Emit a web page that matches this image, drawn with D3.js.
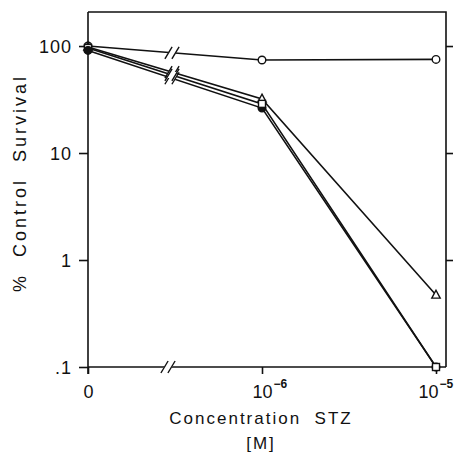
<!DOCTYPE html>
<html>
<head>
<meta charset="utf-8">
<script src="https://cdn.jsdelivr.net/npm/d3@7"></script>
<style>
  html, body { margin: 0; padding: 0; background: #fff; }
  svg { display: block; }
  text { font-family: "Liberation Sans", Arial, Helvetica, sans-serif; fill: #111; }
</style>
</head>
<body>
<svg id="chart" width="457" height="454"></svg>
<script>
// ---- data ----
const concentrations = [0, 1e-6, 1e-5];
const xTickLabels = [{base: "0", exp: ""}, {base: "10", exp: "−6"}, {base: "10", exp: "−5"}];
const yTickValues = [0.1, 1, 10, 100];
const yTickLabels = [".1", "1", "10", "100"];
const seriesOpenCircle = [100, 74, 75];
const seriesTriangle = [98, 32, 0.47];
const seriesOpenSquare = [96, 28.8, 0.1];
const seriesFilledCircle = [91, 26.3, 0.1];

const series = [
  {name: "open circle", values: seriesOpenCircle, marker: "circle", fill: "#fff"},
  {name: "triangle", values: seriesTriangle, marker: "triangle", fill: "#fff"},
  {name: "filled circle", values: seriesFilledCircle, marker: "circle", fill: "#111"},
  {name: "open square", values: seriesOpenSquare, marker: "square", fill: "#fff"}
];

const W = 457;
const svg = d3.select("#chart");
const pLeft = 88, pRight = 446, pTop = 12, pBottom = 367;

// x: log scale; the "0" point is placed one decade left of 1e-6 (axis break)
const xScale = d3.scaleLog().domain([1e-7, 1e-5]).range([88, 436]);
const xPos = v => xScale(v === 0 ? 1e-7 : v);
const yScale = d3.scaleLog().domain([0.1, 208]).range([pBottom, pTop]);

const ink = "#111";
const breakX = 172;
const sw = 1.6;
const fs = 18;

// frame (top + right)
svg.append("path")
  .attr("d", `M${pLeft},${pTop}H${pRight}V${pBottom}`)
  .attr("fill", "none").attr("stroke", ink).attr("stroke-width", sw);

// left axis
const gy = svg.append("g").attr("transform", `translate(${pLeft},0)`)
  .call(d3.axisLeft(yScale).tickValues(yTickValues)
    .tickFormat((d, i) => yTickLabels[i]).tickSize(9).tickPadding(7));
gy.select(".domain").attr("d", `M0,${pTop}V${pBottom + 7}`).attr("stroke", ink).attr("stroke-width", sw);
gy.selectAll(".tick line").attr("stroke", ink).attr("stroke-width", sw);
gy.selectAll(".tick text").attr("font-size", fs).attr("letter-spacing", 1)
  .attr("font-family", "Liberation Sans, Arial, sans-serif").attr("fill", ink).attr("dy", "0.36em");

// right axis
const gr = svg.append("g").attr("transform", `translate(${pRight},0)`)
  .call(d3.axisRight(yScale).tickValues([1, 10, 100]).tickFormat("").tickSize(7));
gr.select(".domain").remove();
gr.selectAll(".tick line").attr("stroke", ink).attr("stroke-width", sw);

// bottom axis
const gx = svg.append("g").attr("transform", `translate(0,${pBottom})`)
  .call(d3.axisBottom(xScale).tickValues([1e-7, 1e-6, 1e-5]).tickFormat("").tickSize(7));
gx.select(".domain").attr("d", `M${pLeft},0H${pRight}`).attr("stroke", ink).attr("stroke-width", sw);
gx.selectAll(".tick line").attr("stroke", ink).attr("stroke-width", sw);
gx.selectAll(".tick").each(function(d, i) {
  const g = d3.select(this);
  const lab = xTickLabels[i];
  const baseW = lab.base.length * 0.556 * fs; // Arial-metric digit width
  const expW = lab.exp ? 15 : 0;
  let x0 = -baseW / 2;
  const rightEdge = xScale(d) + x0 + baseW + 1 + expW;
  if (rightEdge > W - 3) x0 -= rightEdge - (W - 3);
  const t = g.append("text")
    .attr("x", x0).attr("y", 31).attr("text-anchor", "start")
    .attr("font-size", fs).attr("fill", ink);
  t.append("tspan").text(lab.base);
  if (lab.exp) {
    t.append("tspan").attr("dx", 1).attr("dy", -10).attr("font-size", 12)
      .attr("font-weight", "bold").text(lab.exp);
  }
});

// lines
const line = d3.line().x((d, i) => xPos(concentrations[i])).y(d => yScale(d));
series.forEach(s => {
  svg.append("path").datum(s.values)
    .attr("d", line).attr("fill", "none")
    .attr("stroke", ink).attr("stroke-width", sw);
});

// breaks: "//" marks
function breakMark(cx, cy, h) {
  const g = svg.append("g");
  g.append("polygon")
    .attr("points", `${cx - 6},${cy + 3} ${cx - 2},${cy - 3} ${cx + 6},${cy - 3} ${cx + 2},${cy + 3}`)
    .attr("fill", "#fff");
  [-3.5, 3.5].forEach(o => {
    g.append("line")
      .attr("x1", cx + o - h * 0.6).attr("y1", cy + h)
      .attr("x2", cx + o + h * 0.6).attr("y2", cy - h)
      .attr("stroke", ink).attr("stroke-width", 1.4);
  });
}
series.forEach(s => {
  const x0 = xPos(concentrations[0]), x1 = xPos(concentrations[1]);
  const y0 = yScale(s.values[0]), y1 = yScale(s.values[1]);
  const yb = y0 + (y1 - y0) * (breakX - x0) / (x1 - x0);
  breakMark(breakX, yb, 6);
});
breakMark(breakX - 4, pBottom, 6);

// markers
function drawMarker(s, i) {
  const v = s.values[i];
  const cx = xPos(concentrations[i]), cy = yScale(v);
  if (s.marker === "circle") {
    svg.append("circle").attr("cx", cx).attr("cy", cy).attr("r", 3.8)
      .attr("fill", s.fill).attr("stroke", ink).attr("stroke-width", 1.4);
  } else if (s.marker === "square") {
    svg.append("rect").attr("x", cx - 3.5).attr("y", cy - 3.5).attr("width", 7).attr("height", 7)
      .attr("fill", s.fill).attr("stroke", ink).attr("stroke-width", 1.4);
  } else {
    svg.append("path")
      .attr("d", `M${cx},${cy - 4.8}L${cx + 4.2},${cy + 3}L${cx - 4.2},${cy + 3}Z`)
      .attr("fill", s.fill).attr("stroke", ink).attr("stroke-width", 1.4);
  }
}
// at 0 the filled circle is on top; elsewhere open square on top
[0, 1, 3].forEach(k => drawMarker(series[k], 0));
drawMarker(series[2], 0);
[1, 2].forEach(i => series.forEach(s => drawMarker(s, i)));

// axis titles
svg.append("text").attr("x", 261).attr("y", 424).attr("text-anchor", "middle")
  .attr("font-size", 17).attr("letter-spacing", 2).style("white-space", "pre")
  .text("Concentration  STZ");
svg.append("text").attr("x", 261).attr("y", 449).attr("text-anchor", "middle")
  .attr("font-size", 17).attr("letter-spacing", 2)
  .text("[M]");
svg.append("text").attr("transform", "translate(26,183) rotate(-90)").attr("text-anchor", "middle")
  .attr("font-size", 18).attr("letter-spacing", 3).style("white-space", "pre")
  .text("%  Control  Survival");
</script>
</body>
</html>
